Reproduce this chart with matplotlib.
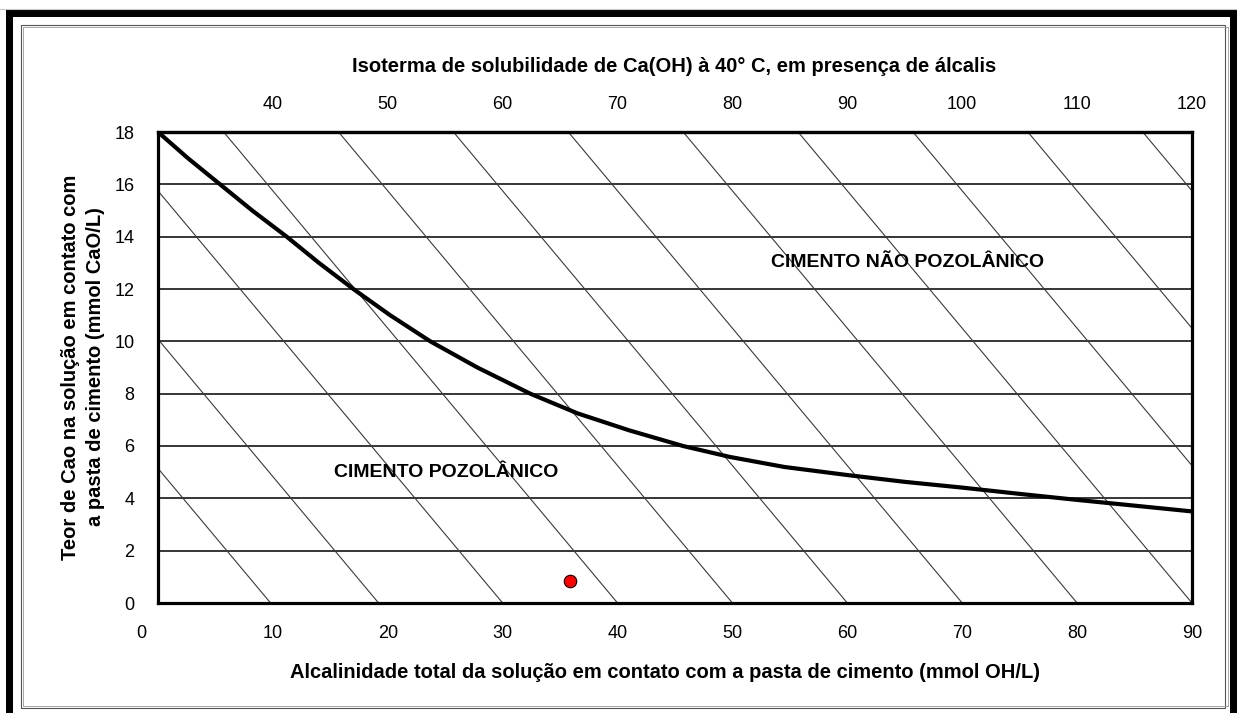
import matplotlib
matplotlib.use("Agg")
import matplotlib.pyplot as plt
from matplotlib.patches import Rectangle
from matplotlib.transforms import ScaledTranslation

plt.rcParams["font.family"] = ["Liberation Sans", "DejaVu Sans"]

# --- datos ----------------------------------------------------------------
# isoterma de solubilidad (curva gruesa)
curva_x = [0, 2.6, 5.4, 8.2, 11.2, 14.0, 17.0, 20.2, 23.7, 27.8, 32.4, 36.5,
           41.0, 45.7, 49.8, 54.5, 60.0, 65.0, 70.0, 75.0, 80.0, 85.0, 90.0]
curva_y = [18, 17, 16, 15, 14, 13, 12, 11, 10, 9, 8, 7.25,
           6.6, 6.0, 5.58, 5.2, 4.89, 4.63, 4.41, 4.17, 3.94, 3.72, 3.5]

# rectas diagonales: corte con el eje x y pendiente común
diag_x0 = [9.8, 19.2, 30, 40, 50, 60, 70, 80, 90, 100, 110, 120]
diag_pend = 0.525

# punto de la muestra
punto_x = [35.9]
punto_y = [0.84]

xticks = [0, 10, 20, 30, 40, 50, 60, 70, 80, 90]
yticks = [0, 2, 4, 6, 8, 10, 12, 14, 16, 18]
top_ticks = [40, 50, 60, 70, 80, 90, 100, 110, 120]
top_offset = 30

W, H = 1237, 713
fig = plt.figure(figsize=(W / 100, H / 100), dpi=100)

# ----------------------- marco exterior -------------------------------------
bg = fig.add_axes([0, 0, 1, 1], zorder=-1)
bg.set_xlim(0, W); bg.set_ylim(H, 0); bg.axis("off")
bg.plot([0, W], [9, 9], color="#c8c8c8", lw=0.8)
bg.add_patch(Rectangle((6, 10), W, H, facecolor="black", edgecolor="none"))
bg.add_patch(Rectangle((13, 17), 1230 - 13, H, facecolor="white", edgecolor="none"))
bg.add_patch(Rectangle((20.5, 24.5), 1225 - 20.5, 708 - 24.5, fill=False,
                       edgecolor="#555555", lw=0.8))
bg.add_patch(Rectangle((22.5, 26.5), 1227.5 - 22.5, 705.5 - 26.5, fill=False,
                       edgecolor="#999999", lw=0.6))

# ----------------------- gráfico --------------------------------------------
ax = fig.add_axes([158 / W, 1 - 603 / H, (1192 - 158) / W, (603 - 132) / H])
ax.set_xlim(0, 90)
ax.set_ylim(0, 18)

for x0 in diag_x0:
    ax.plot([x0 - 18 / diag_pend, x0], [18, 0], color="#3a3a3a", lw=0.8, zorder=2)

ax.set_yticks(yticks)
ax.set_xticks(xticks)
ax.grid(axis="y", color="black", lw=1.1)
ax.set_axisbelow(True)

ax.plot(curva_x, curva_y, color="black", lw=3.0, solid_joinstyle="round",
        solid_capstyle="round", zorder=4)
ax.plot(punto_x, punto_y, "o", color="red", mec="black", mew=0.8, ms=9, zorder=5)

ax.text(25.1, 4.97, "CIMENTO POZOLÂNICO", ha="center", va="center",
        fontsize=14, fontweight="bold", zorder=6)
ax.text(65.2, 13.03, "CIMENTO NÃO POZOLÂNICO", ha="center", va="center",
        fontsize=14, fontweight="bold", zorder=6)

for s in ax.spines.values():
    s.set_linewidth(2.3)
ax.tick_params(length=0, labelsize=13)
ax.tick_params(axis="y", pad=17)
ax.tick_params(axis="x", pad=16)

# el "0" del eje x aparece desplazado a la izquierda en el original
lbl0 = ax.get_xticklabels()[0]
lbl0.set_transform(lbl0.get_transform() + ScaledTranslation(-0.17, 0, fig.dpi_scale_trans))

sec = ax.secondary_xaxis("top", functions=(lambda x: x + top_offset,
                                           lambda x: x - top_offset))
sec.set_xticks(top_ticks)
sec.tick_params(length=0, labelsize=13, pad=14)
sec.spines["top"].set_linewidth(2.3)

fig.text(674 / W, 1 - 67 / H,
         "Isoterma de solubilidade de Ca(OH) à 40° C, em presença de álcalis",
         ha="center", va="center", fontsize=14.5, fontweight="bold")
fig.text(665 / W, 1 - 673 / H,
         "Alcalinidade total da solução em contato com a pasta de cimento (mmol OH/L)",
         ha="center", va="center", fontsize=14.5, fontweight="bold")
fig.text(83 / W, 1 - 367 / H,
         "Teor de Cao na solução em contato com\na pasta de cimento (mmol CaO/L)",
         ha="center", va="center", rotation=90, fontsize=14.5, fontweight="bold",
         multialignment="center", linespacing=1.4)

fig.savefig("out.png", dpi=100)
